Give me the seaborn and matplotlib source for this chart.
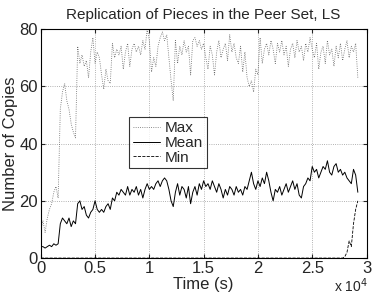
import numpy as np
import pandas as pd
import matplotlib
matplotlib.use("Agg")
import matplotlib.pyplot as plt
import seaborn as sns

# samples every 200 s
step = 200

max_copies = [10, 13, 9, 14, 17, 19, 23, 25, 21, 52,
              58, 61, 55, 52, 47, 44, 42, 74, 68, 71,
              67, 69, 63, 72, 77, 68, 72, 70, 64, 59,
              66, 62, 61, 75, 70, 73, 71, 74, 66, 72,
              75, 67, 73, 75, 72, 74, 71, 76, 73, 80,
              76, 65, 70, 67, 74, 77, 79, 76, 78, 70,
              62, 55, 76, 68, 74, 71, 76, 72, 74, 64,
              76, 77, 74, 76, 73, 75, 70, 66, 74, 71,
              64, 72, 76, 70, 73, 75, 69, 78, 72, 75,
              70, 68, 74, 65, 72, 63, 60, 62, 58, 66,
              64, 77, 68, 73, 75, 71, 76, 73, 68, 75,
              72, 76, 71, 74, 67, 73, 75, 70, 76, 72,
              74, 69, 75, 72, 77, 73, 70, 75, 66, 72,
              74, 68, 76, 71, 73, 67, 74, 70, 75, 69,
              73, 76, 70, 74, 72, 75, 63]

mean_copies = [4, 4, 3.5, 4, 4.5, 4, 5, 4.5, 5, 12,
               14, 13, 12, 14, 11, 13, 12, 19, 20, 17,
               18, 15, 14, 16, 17, 20, 17, 16, 17, 16,
               18, 19, 17, 21, 20, 23, 22, 24, 23, 22,
               25, 22, 24, 23, 25, 22, 24, 21, 24, 26,
               24, 25, 24, 26, 27, 25, 27, 28, 27, 24,
               20, 18, 23, 26, 22, 25, 24, 21, 25, 19,
               23, 25, 22, 26, 24, 27, 25, 26, 24, 27,
               25, 23, 26, 24, 21, 24, 22, 25, 24, 22,
               25, 23, 24, 22, 25, 24, 27, 30, 26, 24,
               27, 25, 28, 26, 30, 27, 23, 20, 24, 23,
               25, 22, 24, 26, 23, 25, 27, 24, 26, 22,
               21, 25, 26, 28, 27, 32, 30, 31, 28, 30,
               32, 31, 34, 30, 29, 32, 33, 30, 31, 29,
               30, 28, 27, 26, 31, 29, 23]

min_copies = [0] * 140 + [0.5, 2, 6, 4, 12, 17, 20]

time_s = np.arange(len(mean_copies)) * step

xtick_vals = [0, 5000, 10000, 15000, 20000, 25000, 30000]
xtick_labels = ["0", "0.5", "1", "1.5", "2", "2.5", "3"]
ytick_vals = [0, 20, 40, 60, 80]

df = pd.DataFrame({"Time": time_s, "Max": max_copies,
                   "Mean": mean_copies, "Min": min_copies})

sns.set_style("ticks")
plt.rcParams["font.family"] = ["Liberation Sans", "DejaVu Sans"]

fig = plt.figure(figsize=(3.74, 2.97), dpi=100)
ax = fig.add_axes([0.109, 0.131, 0.871, 0.771])

sns.lineplot(data=df, x="Time", y="Max", ax=ax, color="0.4", lw=0.6,
             linestyle=":", label="Max")
sns.lineplot(data=df, x="Time", y="Mean", ax=ax, color="black", lw=0.7,
             label="Mean")
sns.lineplot(data=df, x="Time", y="Min", ax=ax, color="black", lw=0.6,
             linestyle="--", label="Min")

ax.set_xlim(0, 30000)
ax.set_ylim(0, 80)
ax.set_xticks(xtick_vals)
ax.set_xticklabels(xtick_labels)
ax.set_yticks(ytick_vals)
ax.tick_params(direction="in", length=3, labelsize=12, top=True, right=True,
               pad=2)
ax.grid(True, linestyle=":", color="0.6", lw=0.6)
for s in ax.spines.values():
    s.set_linewidth(0.8)
    s.set_color("black")

ax.set_title("Replication of Pieces in the Peer Set, LS", fontsize=11, pad=7)
ax.set_xlabel("Time (s)", fontsize=12, labelpad=1)
ax.set_ylabel("Number of Copies", fontsize=12, labelpad=1)
fig.text(0.893, 0.016, "x 10$^4$", fontsize=10, ha="left")

leg = ax.legend(loc="upper left", bbox_to_anchor=(0.27, 0.615), fontsize=11,
                frameon=True, fancybox=False, handlelength=1.8,
                handletextpad=0.3, labelspacing=0.05, borderpad=0.25,
                borderaxespad=0)
leg.get_frame().set_edgecolor("black")
leg.get_frame().set_linewidth(0.8)

fig.savefig("out.png", dpi=100)
